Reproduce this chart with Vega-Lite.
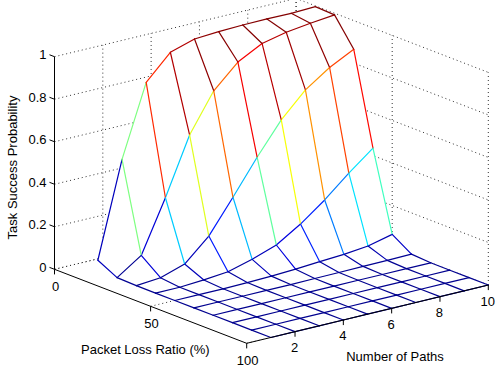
{
"$schema":"https://vega.github.io/schema/vega-lite/v6.json",
"width":495,"height":373,"autosize":{"type":"none"},"padding":0,"background":"white",
"config":{"view":{"stroke":null},"text":{"font":"Liberation Sans","fontSize":13,"color":"black"}},
"datasets":{
"mesh":[
{"p":1,"L":10,"z":0.05},{"p":1,"L":20,"z":0.003},{"p":1,"L":30,"z":0},{"p":1,"L":40,"z":0},{"p":1,"L":50,"z":0},{"p":1,"L":60,"z":0},{"p":1,"L":70,"z":0},{"p":1,"L":80,"z":0},{"p":1,"L":90,"z":0},{"p":1,"L":100,"z":0},
{"p":2,"L":10,"z":0.497},{"p":2,"L":20,"z":0.08},{"p":2,"L":30,"z":0.01},{"p":2,"L":40,"z":0},{"p":2,"L":50,"z":0},{"p":2,"L":60,"z":0},{"p":2,"L":70,"z":0},{"p":2,"L":80,"z":0},{"p":2,"L":90,"z":0},{"p":2,"L":100,"z":0},
{"p":3,"L":10,"z":0.832},{"p":3,"L":20,"z":0.324},{"p":3,"L":30,"z":0.047},{"p":3,"L":40,"z":0.007},{"p":3,"L":50,"z":0},{"p":3,"L":60,"z":0},{"p":3,"L":70,"z":0},{"p":3,"L":80,"z":0},{"p":3,"L":90,"z":0},{"p":3,"L":100,"z":0},
{"p":4,"L":10,"z":0.946},{"p":4,"L":20,"z":0.592},{"p":4,"L":30,"z":0.151},{"p":4,"L":40,"z":0.018},{"p":4,"L":50,"z":0.002},{"p":4,"L":60,"z":0},{"p":4,"L":70,"z":0},{"p":4,"L":80,"z":0},{"p":4,"L":90,"z":0},{"p":4,"L":100,"z":0},
{"p":5,"L":10,"z":0.981},{"p":5,"L":20,"z":0.772},{"p":5,"L":30,"z":0.306},{"p":5,"L":40,"z":0.049},{"p":5,"L":50,"z":0.005},{"p":5,"L":60,"z":0},{"p":5,"L":70,"z":0},{"p":5,"L":80,"z":0},{"p":5,"L":90,"z":0},{"p":5,"L":100,"z":0},
{"p":6,"L":10,"z":0.988},{"p":6,"L":20,"z":0.88},{"p":6,"L":30,"z":0.467},{"p":6,"L":40,"z":0.089},{"p":6,"L":50,"z":0.01},{"p":6,"L":60,"z":0.001},{"p":6,"L":70,"z":0},{"p":6,"L":80,"z":0},{"p":6,"L":90,"z":0},{"p":6,"L":100,"z":0},
{"p":7,"L":10,"z":0.992},{"p":7,"L":20,"z":0.94},{"p":7,"L":30,"z":0.615},{"p":7,"L":40,"z":0.16},{"p":7,"L":50,"z":0.018},{"p":7,"L":60,"z":0.002},{"p":7,"L":70,"z":0},{"p":7,"L":80,"z":0},{"p":7,"L":90,"z":0},{"p":7,"L":100,"z":0},
{"p":8,"L":10,"z":0.993},{"p":8,"L":20,"z":0.965},{"p":8,"L":30,"z":0.729},{"p":8,"L":40,"z":0.246},{"p":8,"L":50,"z":0.025},{"p":8,"L":60,"z":0.003},{"p":8,"L":70,"z":0},{"p":8,"L":80,"z":0},{"p":8,"L":90,"z":0},{"p":8,"L":100,"z":0},
{"p":9,"L":10,"z":0.992},{"p":9,"L":20,"z":0.98},{"p":9,"L":30,"z":0.807},{"p":9,"L":40,"z":0.345},{"p":9,"L":50,"z":0.037},{"p":9,"L":60,"z":0.004},{"p":9,"L":70,"z":0},{"p":9,"L":80,"z":0},{"p":9,"L":90,"z":0},{"p":9,"L":100,"z":0},
{"p":10,"L":10,"z":0.996},{"p":10,"L":20,"z":0.992},{"p":10,"L":30,"z":0.865},{"p":10,"L":40,"z":0.435},{"p":10,"L":50,"z":0.064},{"p":10,"L":60,"z":0.006},{"p":10,"L":70,"z":0},{"p":10,"L":80,"z":0},{"p":10,"L":90,"z":0},{"p":10,"L":100,"z":0}
],
"zt":[{"v":0},{"v":0.2},{"v":0.4},{"v":0.6},{"v":0.8},{"v":1}],
"pt":[{"p":2},{"p":4},{"p":6},{"p":8},{"p":10}],
"lt":[{"L":0},{"L":50},{"L":100}]
},
"encoding":{
"x":{"field":"sx","type":"quantitative","scale":{"domain":[0,495],"nice":false,"zero":false},"axis":null},
"y":{"field":"sy","type":"quantitative","scale":{"domain":[0,373],"nice":false,"zero":false,"reverse":true},"axis":null}
},
"layer":[
{"data":{"name":"zt"},
 "transform":[
  {"calculate":"54.5 + 24.16*0 + 1.922*0","as":"sx"},
  {"calculate":"269.3 - 212.6*datum.v","as":"sy"},
  {"calculate":"54.5 + 24.16*10","as":"sx2"},
  {"calculate":"269.3 - 5.83*10 - 212.6*datum.v","as":"sy2"}],
 "mark":{"type":"rule","color":"#333","strokeWidth":1,"strokeDash":[1,3]},
 "encoding":{"x2":{"field":"sx2"},"y2":{"field":"sy2"}}},
{"data":{"name":"zt"},
 "transform":[
  {"calculate":"54.5 + 24.16*10","as":"sx"},
  {"calculate":"269.3 - 5.83*10 - 212.6*datum.v","as":"sy"},
  {"calculate":"54.5 + 24.16*10 + 1.922*100","as":"sx2"},
  {"calculate":"269.3 - 5.83*10 + 0.74*100 - 212.6*datum.v","as":"sy2"}],
 "mark":{"type":"rule","color":"#333","strokeWidth":1,"strokeDash":[1,3]},
 "encoding":{"x2":{"field":"sx2"},"y2":{"field":"sy2"}}},
{"data":{"name":"pt"},
 "transform":[
  {"calculate":"54.5 + 24.16*datum.p","as":"sx"},
  {"calculate":"269.3 - 5.83*datum.p","as":"sy"},
  {"calculate":"54.5 + 24.16*datum.p","as":"sx2"},
  {"calculate":"269.3 - 5.83*datum.p - 212.6","as":"sy2"}],
 "mark":{"type":"rule","color":"#333","strokeWidth":1,"strokeDash":[1,3]},
 "encoding":{"x2":{"field":"sx2"},"y2":{"field":"sy2"}}},
{"data":{"name":"pt"},
 "transform":[
  {"calculate":"54.5 + 24.16*datum.p","as":"sx"},
  {"calculate":"269.3 - 5.83*datum.p","as":"sy"},
  {"calculate":"54.5 + 24.16*datum.p + 1.922*100","as":"sx2"},
  {"calculate":"269.3 - 5.83*datum.p + 0.74*100","as":"sy2"}],
 "mark":{"type":"rule","color":"#333","strokeWidth":1,"strokeDash":[1,3]},
 "encoding":{"x2":{"field":"sx2"},"y2":{"field":"sy2"}}},
{"data":{"name":"lt"},
 "transform":[
  {"calculate":"54.5 + 24.16*10 + 1.922*datum.L","as":"sx"},
  {"calculate":"269.3 - 5.83*10 + 0.74*datum.L","as":"sy"},
  {"calculate":"54.5 + 24.16*10 + 1.922*datum.L","as":"sx2"},
  {"calculate":"269.3 - 5.83*10 + 0.74*datum.L - 212.6","as":"sy2"}],
 "mark":{"type":"rule","color":"#333","strokeWidth":1,"strokeDash":[1,3]},
 "encoding":{"x2":{"field":"sx2"},"y2":{"field":"sy2"}}},
{"data":{"name":"lt"},
 "transform":[
  {"calculate":"54.5 + 1.922*datum.L","as":"sx"},
  {"calculate":"269.3 + 0.74*datum.L","as":"sy"},
  {"calculate":"54.5 + 24.16*10 + 1.922*datum.L","as":"sx2"},
  {"calculate":"269.3 - 5.83*10 + 0.74*datum.L","as":"sy2"}],
 "mark":{"type":"rule","color":"#333","strokeWidth":1,"strokeDash":[1,3]},
 "encoding":{"x2":{"field":"sx2"},"y2":{"field":"sy2"}}},
{"data":{"name":"mesh"},
 "transform":[
  {"window":[{"op":"lead","field":"z","as":"zR"},{"op":"lead","field":"p","as":"pn"}],"groupby":["L"],"sort":[{"field":"p","order":"ascending"}]},
  {"window":[{"op":"lead","field":"z","as":"zD"},{"op":"lead","field":"zR","as":"zDR"},{"op":"lead","field":"L","as":"Ln"}],"groupby":["p"],"sort":[{"field":"L","order":"ascending"}]},
  {"filter":"datum.pn != null && datum.Ln != null"},
  {"calculate":"datum.p + '_' + datum.L","as":"face"},
  {"fold":["z","zR","zDR","zD"],"as":["corner","zc"]},
  {"calculate":"indexof(['z','zR','zDR','zD'], datum.corner)","as":"ord"},
  {"calculate":"(datum.ord == 1 || datum.ord == 2) ? datum.pn : datum.p","as":"cp"},
  {"calculate":"datum.ord >= 2 ? datum.Ln : datum.L","as":"cL"},
  {"calculate":"54.5 + 24.16*datum.cp + 1.922*datum.cL","as":"sx"},
  {"calculate":"269.3 - 5.83*datum.cp + 0.74*datum.cL - 212.6*datum.zc","as":"sy"}],
 "mark":{"type":"line","interpolate":"linear-closed","fill":"white","stroke":"white","strokeWidth":1},
 "encoding":{"detail":{"field":"face","type":"nominal"},"order":{"field":"ord","type":"quantitative"}}},
{"data":{"name":"mesh"},
 "transform":[
  {"window":[{"op":"lead","field":"z","as":"z2"},{"op":"lead","field":"p","as":"p2"}],"groupby":["L"],"sort":[{"field":"p","order":"ascending"}]},
  {"filter":"datum.p2 != null"},
  {"calculate":"54.5 + 24.16*datum.p + 1.922*datum.L","as":"sx"},
  {"calculate":"269.3 - 5.83*datum.p + 0.74*datum.L - 212.6*datum.z","as":"sy"},
  {"calculate":"54.5 + 24.16*datum.p2 + 1.922*datum.L","as":"sx2"},
  {"calculate":"269.3 - 5.83*datum.p2 + 0.74*datum.L - 212.6*datum.z2","as":"sy2"}],
 "mark":{"type":"rule","strokeWidth":1.2,"strokeCap":"round"},
 "encoding":{"x2":{"field":"sx2"},"y2":{"field":"sy2"},
  "color":{"field":"z","type":"quantitative","legend":null,"scale":{"type":"linear","domain":[0,0.1245,0.3735,0.6225,0.8715,0.996],"range":["#00008f","#0000ff","#00ffff","#ffff00","#ff0000","#800000"],"interpolate":"rgb"}}}},
{"data":{"name":"mesh"},
 "transform":[
  {"window":[{"op":"lead","field":"z","as":"z2"},{"op":"lead","field":"L","as":"L2"}],"groupby":["p"],"sort":[{"field":"L","order":"ascending"}]},
  {"filter":"datum.L2 != null"},
  {"calculate":"54.5 + 24.16*datum.p + 1.922*datum.L","as":"sx"},
  {"calculate":"269.3 - 5.83*datum.p + 0.74*datum.L - 212.6*datum.z","as":"sy"},
  {"calculate":"54.5 + 24.16*datum.p + 1.922*datum.L2","as":"sx2"},
  {"calculate":"269.3 - 5.83*datum.p + 0.74*datum.L2 - 212.6*datum.z2","as":"sy2"}],
 "mark":{"type":"rule","strokeWidth":1.2,"strokeCap":"round"},
 "encoding":{"x2":{"field":"sx2"},"y2":{"field":"sy2"},
  "color":{"field":"z","type":"quantitative","legend":null,"scale":{"type":"linear","domain":[0,0.1245,0.3735,0.6225,0.8715,0.996],"range":["#00008f","#0000ff","#00ffff","#ffff00","#ff0000","#800000"],"interpolate":"rgb"}}}},
{"data":{"name":"zt"},
 "transform":[
  {"aggregate":[{"op":"min","field":"v","as":"lo"},{"op":"max","field":"v","as":"hi"}]},
  {"calculate":"54.5","as":"sx"},
  {"calculate":"269.3 - 212.6*datum.lo","as":"sy"},
  {"calculate":"54.5","as":"sx2"},
  {"calculate":"269.3 - 212.6*datum.hi","as":"sy2"}],
 "mark":{"type":"rule","color":"black","strokeWidth":1},
 "encoding":{"x2":{"field":"sx2"},"y2":{"field":"sy2"}}},
{"data":{"name":"lt"},
 "transform":[
  {"aggregate":[{"op":"min","field":"L","as":"lo"},{"op":"max","field":"L","as":"hi"}]},
  {"calculate":"54.5 + 1.922*datum.lo","as":"sx"},
  {"calculate":"269.3 + 0.74*datum.lo","as":"sy"},
  {"calculate":"54.5 + 1.922*datum.hi","as":"sx2"},
  {"calculate":"269.3 + 0.74*datum.hi","as":"sy2"}],
 "mark":{"type":"rule","color":"black","strokeWidth":1},
 "encoding":{"x2":{"field":"sx2"},"y2":{"field":"sy2"}}},
{"data":{"name":"pt"},
 "transform":[
  {"aggregate":[{"op":"max","field":"p","as":"hi"}]},
  {"calculate":"54.5 + 1.922*100","as":"sx"},
  {"calculate":"269.3 + 0.74*100","as":"sy"},
  {"calculate":"54.5 + 24.16*datum.hi + 1.922*100","as":"sx2"},
  {"calculate":"269.3 - 5.83*datum.hi + 0.74*100","as":"sy2"}],
 "mark":{"type":"rule","color":"black","strokeWidth":1},
 "encoding":{"x2":{"field":"sx2"},"y2":{"field":"sy2"}}},
{"data":{"name":"zt"},
 "transform":[
  {"calculate":"54.5","as":"sx"},
  {"calculate":"269.3 - 212.6*datum.v","as":"sy"},
  {"calculate":"54.5 - 1.922*2.6","as":"sx2"},
  {"calculate":"269.3 - 0.74*2.6 - 212.6*datum.v","as":"sy2"}],
 "mark":{"type":"rule","color":"black","strokeWidth":1},
 "encoding":{"x2":{"field":"sx2"},"y2":{"field":"sy2"}}},
{"data":{"name":"lt"},
 "transform":[
  {"calculate":"54.5 + 1.922*datum.L","as":"sx"},
  {"calculate":"269.3 + 0.74*datum.L","as":"sy"},
  {"calculate":"54.5 + 1.922*datum.L","as":"sx2"},
  {"calculate":"269.3 + 0.74*datum.L + 212.6*0.024","as":"sy2"}],
 "mark":{"type":"rule","color":"black","strokeWidth":1},
 "encoding":{"x2":{"field":"sx2"},"y2":{"field":"sy2"}}},
{"data":{"name":"pt"},
 "transform":[
  {"calculate":"54.5 + 24.16*datum.p + 1.922*100","as":"sx"},
  {"calculate":"269.3 - 5.83*datum.p + 0.74*100","as":"sy"},
  {"calculate":"54.5 + 24.16*datum.p + 1.922*100","as":"sx2"},
  {"calculate":"269.3 - 5.83*datum.p + 0.74*100 + 212.6*0.024","as":"sy2"}],
 "mark":{"type":"rule","color":"black","strokeWidth":1},
 "encoding":{"x2":{"field":"sx2"},"y2":{"field":"sy2"}}},
{"data":{"name":"zt"},
 "transform":[
  {"calculate":"54.5","as":"sx"},
  {"calculate":"269.3 - 212.6*datum.v","as":"sy"}],
 "mark":{"type":"text","align":"right","baseline":"middle","dx":-8,"dy":-1.5},
 "encoding":{"text":{"field":"v","type":"quantitative","format":"~g"}}},
{"data":{"name":"lt"},
 "transform":[
  {"calculate":"54.5 + 1.922*datum.L","as":"sx"},
  {"calculate":"269.3 + 0.74*datum.L","as":"sy"}],
 "mark":{"type":"text","align":"center","baseline":"middle","dx":1,"dy":17.5},
 "encoding":{"text":{"field":"L","type":"quantitative","format":"~g"}}},
{"data":{"name":"pt"},
 "transform":[
  {"calculate":"54.5 + 24.16*datum.p + 1.922*100","as":"sx"},
  {"calculate":"269.3 - 5.83*datum.p + 0.74*100","as":"sy"}],
 "mark":{"type":"text","align":"center","baseline":"middle","dx":-0.5,"dy":16.5},
 "encoding":{"text":{"field":"p","type":"quantitative","format":"~g"}}},
{"data":{"name":"zt"},
 "transform":[
  {"aggregate":[{"op":"mean","field":"v","as":"m"}]},
  {"calculate":"54.5","as":"sx"},
  {"calculate":"269.3 - 212.6*datum.m","as":"sy"}],
 "mark":{"type":"text","text":"Task Success Probability","angle":270,"align":"center","baseline":"middle","dx":-4.5,"dy":-41.5}},
{"data":{"name":"lt"},
 "transform":[
  {"aggregate":[{"op":"mean","field":"L","as":"m"}]},
  {"calculate":"54.5 + 1.922*datum.m","as":"sx"},
  {"calculate":"269.3 + 0.74*datum.m","as":"sy"}],
 "mark":{"type":"text","text":"Packet Loss Ratio (%)","align":"center","baseline":"middle","dx":-5.3,"dy":43.7}},
{"data":{"name":"pt"},
 "transform":[
  {"aggregate":[{"op":"max","field":"p","as":"hi"}]},
  {"calculate":"54.5 + 24.16*datum.hi/2 + 1.922*100","as":"sx"},
  {"calculate":"269.3 - 5.83*datum.hi/2 + 0.74*100","as":"sy"}],
 "mark":{"type":"text","text":"Number of Paths","align":"center","baseline":"middle","dx":27.5,"dy":42.85}}
]
}
